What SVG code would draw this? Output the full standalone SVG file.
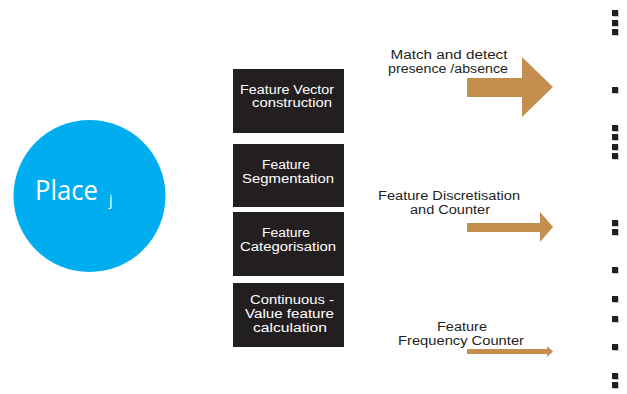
<svg xmlns="http://www.w3.org/2000/svg" width="627" height="394" viewBox="0 0 627 394">
  <style>
    .box { fill: #231f20; }
    .boxtxt { fill: #ffffff; font-family: "Liberation Sans", Arial, sans-serif; font-size: 12.5px; text-anchor: middle; }
    .lbl { fill: #231f20; font-family: "Liberation Sans", Arial, sans-serif; font-size: 12.5px; text-anchor: middle; }
    .arrow { fill: #c48e4f; }
    .dot { fill: #231f20; }
    .dotsh { fill: #c8c8c8; }
  </style>
  <defs>
    <g id="sq">
      <rect class="dotsh" x="1" y="1" width="6" height="6"/>
      <rect class="dot" x="0" y="0" width="6" height="6"/>
    </g>
  </defs>
  <rect width="627" height="394" fill="#ffffff"/>

  <!-- Place node -->
  <g id="place">
    <circle cx="89.5" cy="196" r="76" fill="#00aeef"/>
    <text x="35" y="200" font-family="Open Sans, Liberation Sans, Arial, sans-serif" font-size="28" fill="#ffffff" textLength="63" lengthAdjust="spacingAndGlyphs">Place</text>
    <text x="109" y="205" font-family="Open Sans, Liberation Sans, Arial, sans-serif" font-size="14" fill="#ffffff">j</text>
  </g>

  <!-- Process boxes -->
  <g id="feature-vector">
    <rect class="box" x="233" y="69" width="111" height="64"/>
    <text class="boxtxt" x="287" y="93.5" textLength="94" lengthAdjust="spacingAndGlyphs">Feature Vector</text>
    <text class="boxtxt" x="292" y="107" textLength="80" lengthAdjust="spacingAndGlyphs">construction</text>
  </g>
  <g id="feature-segmentation">
    <rect class="box" x="233" y="144" width="111" height="63"/>
    <text class="boxtxt" x="286" y="169" textLength="48" lengthAdjust="spacingAndGlyphs">Feature</text>
    <text class="boxtxt" x="288" y="183" textLength="92" lengthAdjust="spacingAndGlyphs">Segmentation</text>
  </g>
  <g id="feature-categorisation">
    <rect class="box" x="233" y="212" width="111" height="64"/>
    <text class="boxtxt" x="286" y="237" textLength="48" lengthAdjust="spacingAndGlyphs">Feature</text>
    <text class="boxtxt" x="288" y="251" textLength="96" lengthAdjust="spacingAndGlyphs">Categorisation</text>
  </g>
  <g id="continuous-value">
    <rect class="box" x="233" y="283" width="111" height="64"/>
    <text class="boxtxt" x="292" y="304" textLength="84" lengthAdjust="spacingAndGlyphs">Continuous -</text>
    <text class="boxtxt" x="289.5" y="318" textLength="89" lengthAdjust="spacingAndGlyphs">Value feature</text>
    <text class="boxtxt" x="290" y="332" textLength="74" lengthAdjust="spacingAndGlyphs">calculation</text>
  </g>

  <!-- Arrows with labels -->
  <g id="connectors">
    <g id="match-arrow">
      <polygon class="arrow" points="467,78 522,78 522,57 553,87 522,117 522,97 467,97"/>
      <text class="lbl" x="449" y="59" textLength="117" lengthAdjust="spacingAndGlyphs">Match and detect</text>
      <text class="lbl" x="448" y="72.5" textLength="120" lengthAdjust="spacingAndGlyphs">presence /absence</text>
    </g>
    <g id="discretisation-arrow">
      <polygon class="arrow" points="467,223 540,223 540,212 553,227 540,242 540,232 467,232"/>
      <text class="lbl" x="449" y="200" textLength="142" lengthAdjust="spacingAndGlyphs">Feature Discretisation</text>
      <text class="lbl" x="450" y="214" textLength="80" lengthAdjust="spacingAndGlyphs">and Counter</text>
    </g>
    <g id="frequency-arrow">
      <polygon class="arrow" points="467,349 547,349 547,346 553,351.5 547,357 547,354 467,354"/>
      <text class="lbl" x="462" y="331" textLength="50" lengthAdjust="spacingAndGlyphs">Feature</text>
      <text class="lbl" x="461" y="345" textLength="126" lengthAdjust="spacingAndGlyphs">Frequency Counter</text>
    </g>
  </g>

  <!-- Column of markers on the right edge -->
  <g id="markers">
    <use href="#sq" x="612" y="10"/>
    <use href="#sq" x="612" y="20"/>
    <use href="#sq" x="612" y="29"/>
    <use href="#sq" x="612" y="87"/>
    <use href="#sq" x="612" y="125"/>
    <use href="#sq" x="612" y="134"/>
    <use href="#sq" x="612" y="144"/>
    <use href="#sq" x="612" y="153"/>
    <use href="#sq" x="612" y="220"/>
    <use href="#sq" x="612" y="229"/>
    <use href="#sq" x="612" y="267"/>
    <use href="#sq" x="612" y="296"/>
    <use href="#sq" x="612" y="316"/>
    <use href="#sq" x="612" y="344"/>
    <use href="#sq" x="612" y="373"/>
    <use href="#sq" x="612" y="382"/>
  </g>
</svg>
